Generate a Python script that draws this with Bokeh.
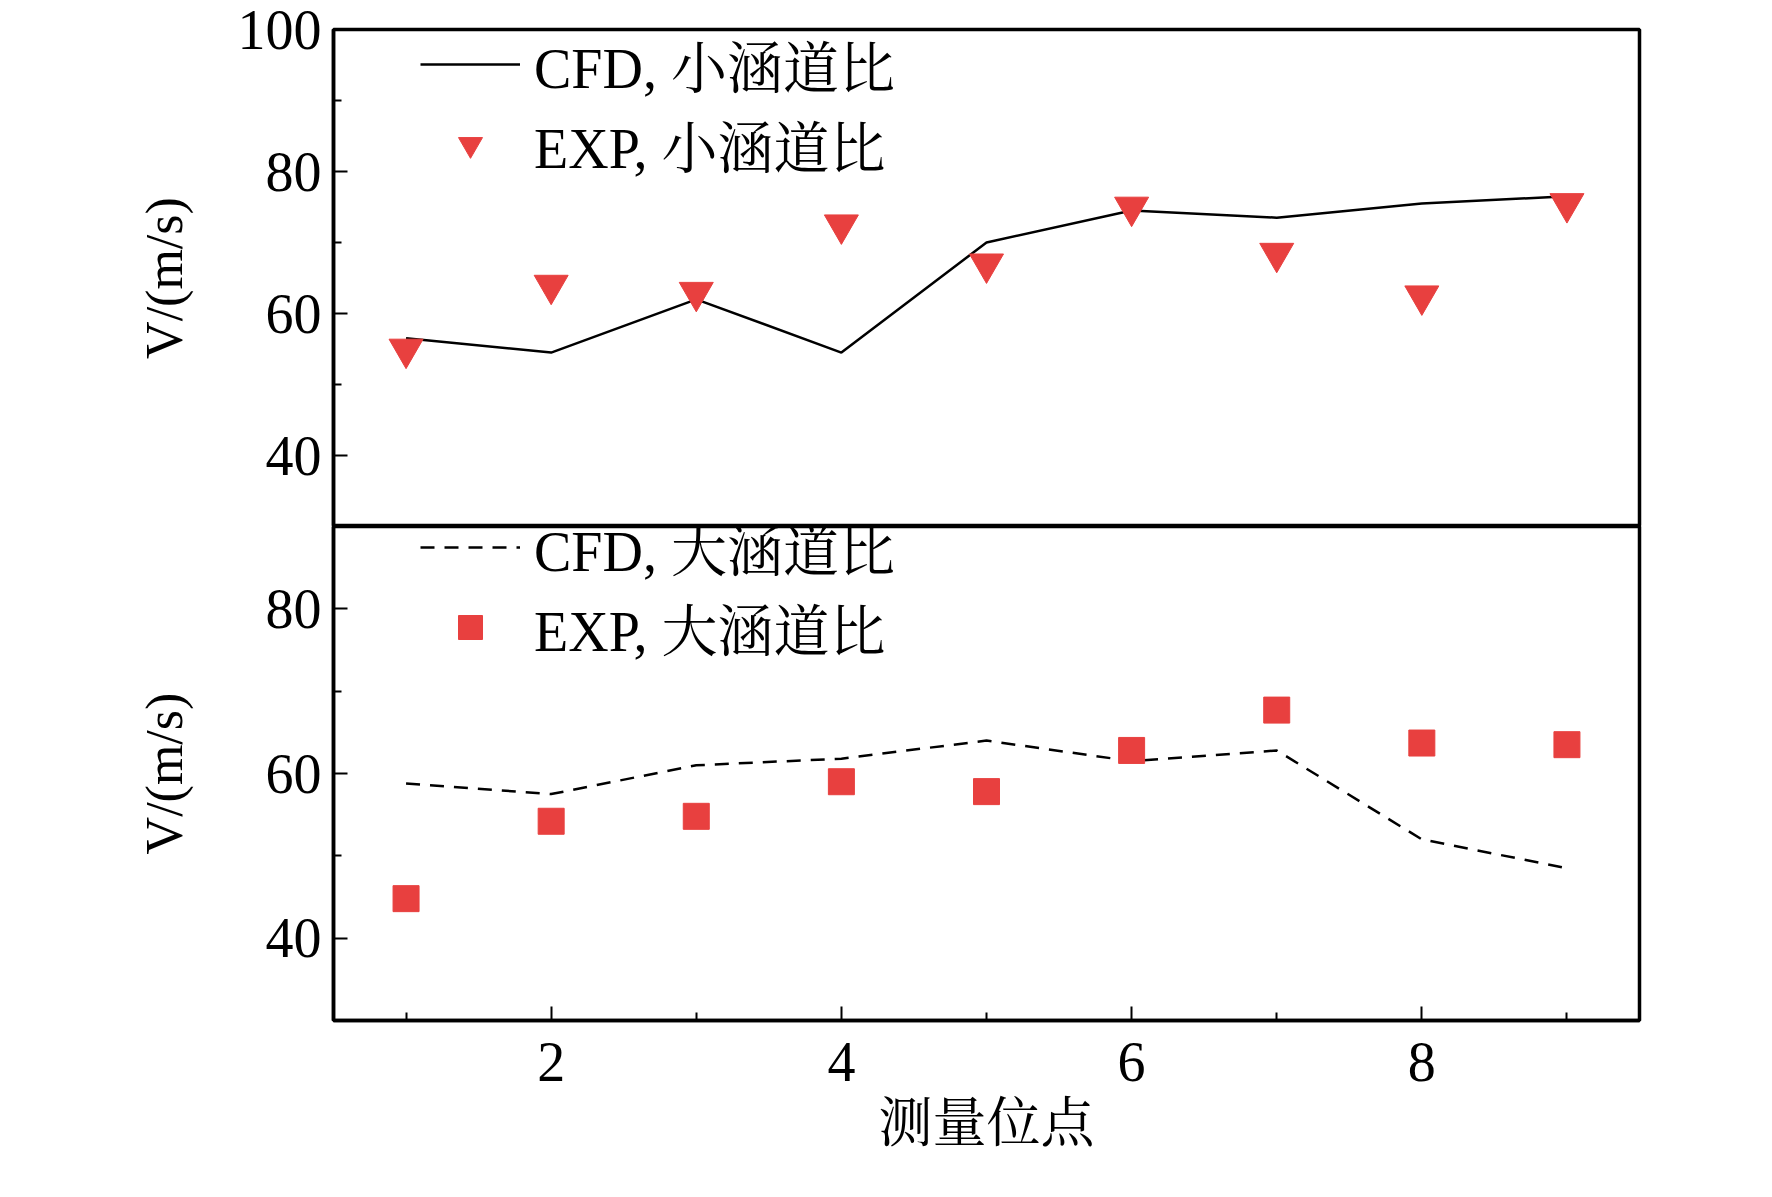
from bokeh.plotting import figure
from bokeh.layouts import column
from bokeh.models import Range1d, Legend, LegendItem, FixedTicker
from bokeh.embed import file_html
from bokeh.resources import INLINE

x = [1, 2, 3, 4, 5, 6, 7, 8, 9]
cfd_small = [56.5, 54.5, 62, 54.5, 70, 74.5, 73.5, 75.5, 76.5]
exp_small = [55, 64, 63, 72.5, 67, 75, 68.5, 62.5, 75.5]
cfd_large = [58.8, 57.5, 61, 61.8, 64, 61.5, 62.8, 52, 48.5]
exp_large = [44.8, 54.2, 54.8, 59, 57.8, 62.8, 67.7, 63.7, 63.5]
x_ticks = [2, 4, 6, 8]

FONT = "'Liberation Serif', 'Noto Serif CJK SC', 'Noto Sans CJK SC'"
RED = "#e8403f"
W = 1750

def style(p, yticks, yminor, standoff):
    p.outline_line_color = "black"
    p.outline_line_width = 3.5
    p.grid.visible = False
    p.background_fill_color = "white"
    ax = p.yaxis[0]
    ax.ticker = FixedTicker(ticks=yticks, minor_ticks=yminor)
    ax.axis_line_width = 3.5
    ax.major_tick_in = 14
    ax.major_tick_out = 0
    ax.minor_tick_in = 8
    ax.minor_tick_out = 0
    ax.major_tick_line_width = 2
    ax.minor_tick_line_width = 2
    ax.major_label_text_font = FONT
    ax.major_label_text_font_size = "56px"
    ax.major_label_text_color = "black"
    ax.major_label_standoff = 12
    ax.axis_label = "V/(m/s)"
    ax.axis_label_text_font = FONT
    ax.axis_label_text_font_size = "52px"
    ax.axis_label_text_color = "black"
    ax.axis_label_text_font_style = "normal"
    ax.axis_label_standoff = standoff

xr = Range1d(0.5, 9.5)

p1 = figure(width=W, height=526, x_range=xr, y_range=Range1d(30, 100),
            output_backend="svg", toolbar_location=None,
            min_border_left=333, min_border_right=111, min_border_top=29, min_border_bottom=0)
style(p1, [40, 60, 80, 100], [50, 70, 90], 42)
p1.xaxis.visible = False
l1 = p1.line(x, cfd_small, line_color="black", line_width=2.5)
m1 = p1.scatter(x, exp_small, marker="inverted_triangle", size=34, fill_color=RED, line_color=RED)

p2 = figure(width=W, height=646, x_range=xr, y_range=Range1d(30, 90),
            output_backend="svg", toolbar_location=None,
            min_border_left=333, min_border_right=111, min_border_top=0, min_border_bottom=152)
style(p2, [40, 60, 80], [50, 70, 90], 70)
xa = p2.xaxis[0]
xa.ticker = FixedTicker(ticks=x_ticks, minor_ticks=[1, 3, 5, 7, 9])
xa.axis_line_width = 3.5
xa.major_tick_in = 14
xa.major_tick_out = 0
xa.minor_tick_in = 8
xa.minor_tick_out = 0
xa.major_tick_line_width = 2
xa.minor_tick_line_width = 2
xa.major_label_text_font = FONT
xa.major_label_text_font_size = "56px"
xa.major_label_text_color = "black"
xa.major_label_standoff = 22
xa.axis_label = "测量位点"
xa.axis_label_text_font = FONT
xa.axis_label_text_font_size = "54px"
xa.axis_label_text_color = "black"
xa.axis_label_text_font_style = "normal"
xa.axis_label_standoff = 10
l2 = p2.line(x, cfd_large, line_color="black", line_width=2.5, line_dash="14 10")
m2 = p2.scatter(x, exp_large, marker="square", size=26, fill_color=RED, line_color=RED)

def legend(p, items, loc):
    lg = Legend(items=items, location=loc, border_line_alpha=0,
                background_fill_alpha=0, label_text_font=FONT,
                label_text_font_size="56px", label_text_color="black",
                glyph_width=100, glyph_height=60,
                label_height=60, spacing=0, margin=0, padding=10, label_standoff=14)
    p.add_layout(lg)

legend(p1, [LegendItem(label="CFD, 小涵道比", renderers=[l1]),
            LegendItem(label="EXP, 小涵道比", renderers=[m1])], (77, 332))
legend(p2, [LegendItem(label="CFD, 大涵道比", renderers=[l2]),
            LegendItem(label="EXP, 大涵道比", renderers=[m2])], (77, 343))

layout = column(p1, p2, spacing=0)
open("out.html", "w").write(file_html(layout, INLINE))
